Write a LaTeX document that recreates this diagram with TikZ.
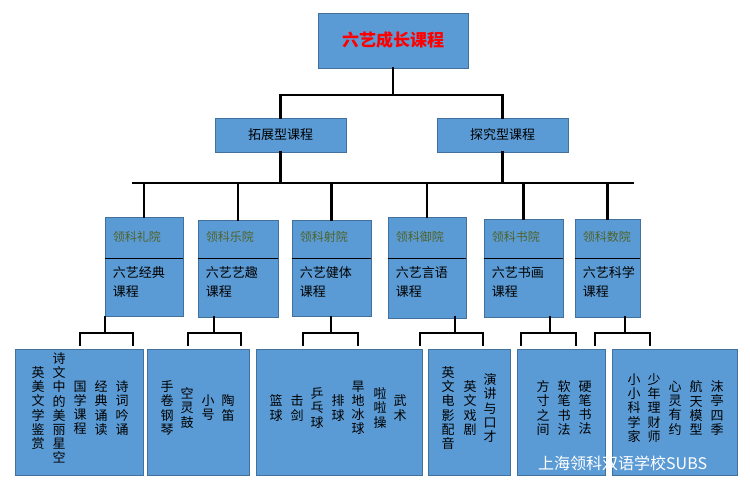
\documentclass[tikz,border=0pt]{standalone}
\usepackage{fontspec}
\setmainfont{Noto Sans CJK SC}
\usetikzlibrary{positioning}
\definecolor{boxblue}{HTML}{5B9BD5}
\definecolor{boxline}{HTML}{41719C}
\definecolor{olive}{HTML}{4F6228}
\tikzset{
    box/.style = {draw=boxline, fill=boxblue, line width=0.8pt, inner sep=0pt},
    link/.style = {line width=2.4pt, line cap=rect},
    col/.style = {font=\fontsize{13}{14.2}\selectfont, align=center, inner sep=0pt},
    dept/.style = {font=\fontsize{12}{14}\selectfont, text=olive, anchor=west, inner sep=0pt},
    course/.style = {font=\fontsize{13}{19}\selectfont, align=left, anchor=north west, inner sep=0pt}
}
\begin{document}
\begin{tikzpicture}[x=1pt, y=-1pt]
    \useasboundingbox[fill=white] (0,0) rectangle (750,496);

    % top level
    \node[box, minimum width=150pt, minimum height=55pt, font=\fontsize{17}{17}\bfseries, text=red] (root) at (393,40.5) {六艺成长课程};
    \node[box, minimum width=131pt, minimum height=34pt, font=\fontsize{13}{13}\selectfont] (tz) at (280.5,135) {拓展型课程};
    \node[box, minimum width=131pt, minimum height=34pt, font=\fontsize{13}{13}\selectfont] (tj) at (502.5,135) {探究型课程};
    \coordinate (bar1) at (393,95);
    \draw[link] (root.south) -- (bar1);
    \draw[link] (tz.north) |- (bar1) -| (tj.north);

    % colleges
    \foreach \name/\cx/\ty/\bw/\bh/\dep/\crs in {
        c1/144/217/78/99/领科礼院/{六艺经典\\课程},
        c2/238/220/80/97/领科乐院/{六艺艺趣\\课程},
        c3/331.5/220/79/96/领科射院/{六艺健体\\课程},
        c4/427/217/78/101/领科御院/{六艺言语\\课程},
        c5/523.5/219/79/98/领科书院/{六艺书画\\课程},
        c6/607.5/219/65/98/领科数院/{六艺科学\\课程}} {
        \node[box, minimum width=\bw pt, minimum height=\bh pt, anchor=north] (\name) at (\cx,\ty) {};
        \draw[line width=0.9pt] (\name.west |- 0,258) -- (\name.east |- 0,258);
        \node[dept] at ([xshift=8pt]\name.west |- 0,237) {\dep};
        \node[course] at ([xshift=8pt]\name.west |- 0,266) {\crs};
    }
    \coordinate (bar2) at (133,183);
    \coordinate (bar3) at (633,183);
    \draw[link] (tz.south) -- (tz.south |- bar2);
    \draw[link] (tj.south) -- (tj.south |- bar2);
    \draw[link] (bar2) -- (bar3);
    \foreach \name in {c1,c2,c3,c4,c5,c6}
        \draw[link] (\name.north |- bar2) -- (\name.north);

    % activity boxes
    \foreach \name/\l/\r in {b1/15/143, b2/147/249, b3/256/422, b4/428/510, b5/517/605, b6/612/737}
        \path[box] (\l,349) rectangle (\r,475) node[midway] (\name) {};

    % brackets
    \foreach \name/\cx/\l/\r in {c1/105/80/133, c2/214/188/241, c3/331/303/358, c4/455/420/483, c5/550/521/576, c6/625/595/650} {
        \draw[link] (\cx,317) -- (\cx,333);
        \draw[link] (\l,345) -- (\l,333) -- (\r,333) -- (\r,345);
    }

    % vertical texts
    \foreach \x/\t in {122/{诗\\词\\吟\\诵}, 101/{经\\典\\诵\\读}, 80/{国\\学\\课\\程},
                       59/{诗\\文\\中\\的\\美\\丽\\星\\空}, 38/{英\\美\\文\\学\\鉴\\赏},
                       228/{陶\\笛}, 208/{小\\号}, 187/{空\\灵\\鼓}, 167/{手\\卷\\钢\\琴},
                       400/{武\\术}, 380/{啦\\啦\\操}, 358/{旱\\地\\冰\\球}, 338/{排\\球},
                       317/{乒\\乓\\球}, 297/{击\\剑}, 276/{篮\\球},
                       490/{演\\讲\\与\\口\\才}, 470/{英\\文\\戏\\剧}, 448/{英\\文\\电\\影\\配\\音},
                       585/{硬\\笔\\书\\法}, 564/{软\\笔\\书\\法}, 543/{方\\寸\\之\\间},
                       717/{沫\\亭\\四\\季}, 696/{航\\天\\模\\型}, 675/{心\\灵\\有\\约},
                       654/{少\\年\\理\\财\\师}, 634/{小\\小\\科\\学\\家}}
        \node[col] at (\x,408) {\t};

    % watermark
    \node[font=\fontsize{16}{16}\selectfont, text=white, anchor=west, inner sep=0pt] (mark) at (538,463) {上海领科双语学校SUBS};
\end{tikzpicture}
\end{document}
